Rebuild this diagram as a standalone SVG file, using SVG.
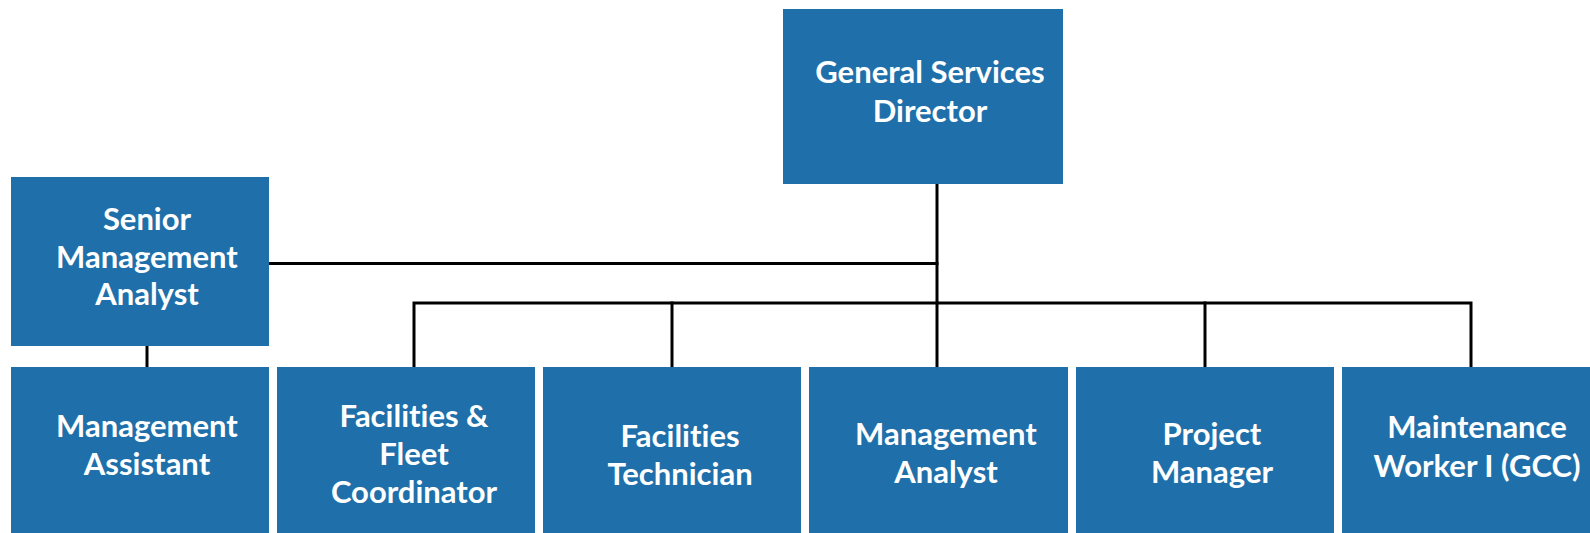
<svg xmlns="http://www.w3.org/2000/svg" width="1590" height="533" viewBox="0 0 1590 533">
  <style>
    .box { fill: #1F70AA; }
    .lbl { font-family: Lato, "Open Sans", "Liberation Sans", sans-serif; font-weight: 700; font-size: 31px; fill: #FFFFFF; text-anchor: middle; font-variant-ligatures: none; }
    .wire { fill: none; stroke: #000000; stroke-width: 3; stroke-linecap: square; }
  </style>
  <rect width="1590" height="533" fill="#FFFFFF"/>

  <g id="connectors">
    <!-- director down to the staff bus and Management Analyst -->
    <path class="wire" d="M937,184 V367"/>
    <!-- senior analyst reports to director -->
    <path class="wire" d="M269,263.5 H937"/>
    <!-- staff bus -->
    <path class="wire" d="M414,367 V303 H1471 V367"/>
    <path class="wire" d="M672,303 V367"/>
    <path class="wire" d="M1205,303 V367"/>
    <!-- senior analyst to assistant -->
    <path class="wire" d="M147,346 V367"/>
  </g>

  <g id="director">
    <rect class="box" x="783" y="9" width="280" height="175"/>
    <text class="lbl" x="930" y="83">General Services</text>
    <text class="lbl" x="930" y="122">Director</text>
  </g>

  <g id="senior-management-analyst">
    <rect class="box" x="11" y="177" width="258" height="169"/>
    <text class="lbl" x="147" y="230">Senior</text>
    <text class="lbl" x="147" y="268">Management</text>
    <text class="lbl" x="147" y="305">Analyst</text>
  </g>

  <g id="management-assistant">
    <rect class="box" x="11" y="367" width="258" height="170"/>
    <text class="lbl" x="147" y="437">Management</text>
    <text class="lbl" x="147" y="475">Assistant</text>
  </g>

  <g id="facilities-fleet-coordinator">
    <rect class="box" x="277" y="367" width="258" height="170"/>
    <text class="lbl" x="414" y="427">Facilities &amp;</text>
    <text class="lbl" x="414" y="465">Fleet</text>
    <text class="lbl" x="414" y="503">Coordinator</text>
  </g>

  <g id="facilities-technician">
    <rect class="box" x="543" y="367" width="258" height="170"/>
    <text class="lbl" x="680" y="447">Facilities</text>
    <text class="lbl" x="680" y="485">Technician</text>
  </g>

  <g id="management-analyst">
    <rect class="box" x="809" y="367" width="259" height="170"/>
    <text class="lbl" x="946" y="445">Management</text>
    <text class="lbl" x="946" y="483">Analyst</text>
  </g>

  <g id="project-manager">
    <rect class="box" x="1076" y="367" width="258" height="170"/>
    <text class="lbl" x="1212" y="445">Project</text>
    <text class="lbl" x="1212" y="483">Manager</text>
  </g>

  <g id="maintenance-worker">
    <rect class="box" x="1342" y="367" width="260" height="170"/>
    <text class="lbl" x="1477" y="438">Maintenance</text>
    <text class="lbl" x="1477" y="477">Worker I (GCC)</text>
  </g>
</svg>
